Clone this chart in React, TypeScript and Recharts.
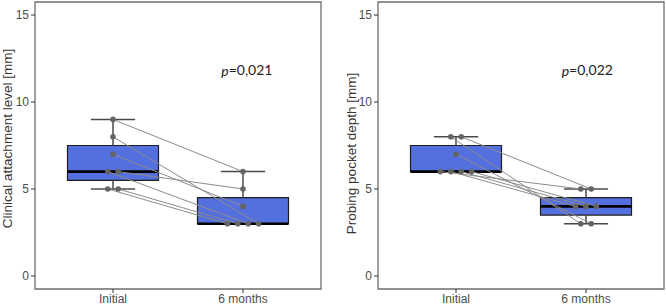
import React from 'react';
import {
  ComposedChart,
  XAxis,
  YAxis,
  Scatter,
  ReferenceArea,
  ReferenceLine,
  ReferenceDot,
} from 'recharts';

const categories = ['Initial', '6 months'];
const yTicks = [0, 5, 10, 15];

// clinical attachment level, one value per patient
const calInitial = [9, 8, 7, 6, 6, 5, 5];
const calSixMonths = [6, 3, 4, 5, 3, 3, 3];
const calJitterInitial = [0, 0, 0, 0.04, -0.04, -0.04, 0.04];
const calJitterSix = [0, 0.12, 0, 0, 0.04, -0.12, -0.04];
// [lower whisker, q1, median, q3, upper whisker]
const calBoxInitial = [5, 5.5, 6, 7.5, 9];
const calBoxSix = [3, 3, 3, 4.5, 6];

// probing pocket depth
const ppdInitial = [8, 8, 7, 6, 6, 6, 6];
const ppdSixMonths = [5, 3, 3, 5, 4, 4, 4];
const ppdJitterInitial = [0.04, -0.04, 0, -0.12, -0.04, 0.04, 0.12];
const ppdJitterSix = [0.04, -0.04, 0.04, -0.04, -0.08, 0, 0.08];
const ppdBoxInitial = [6, 6, 6, 7.5, 8];
const ppdBoxSix = [3, 3.5, 4, 4.5, 5];

const FONT = '"Liberation Sans", Arial, sans-serif';
const BOX_HALF = 0.35;
const CAP_HALF = 0.17;

const Dot = (props: any) => <circle cx={props.cx} cy={props.cy} r={2.8} fill="#646464" />;
const NoDot = () => <g />;

type PanelProps = {
  left: number;
  axisWidth: number;
  marginRight: number;
  yLabel: string;
  labelX: number;
  labelDy: number;
  pValue: string;
  pX: number;
  initial: number[];
  six: number[];
  jitInitial: number[];
  jitSix: number[];
  boxes: number[][];
};

const Panel = (p: PanelProps) => {
  const pairs = p.initial.map((v, i) => [
    { x: 1 + p.jitInitial[i], y: v },
    { x: 2 + p.jitSix[i], y: p.six[i] },
  ]);
  const allPoints = pairs.flat();

  return (
    <div style={{ position: 'absolute', left: p.left, top: 0 }}>
      <ComposedChart
        width={333}
        height={306}
        margin={{ top: 2, right: p.marginRight, bottom: 0, left: 0 }}
      >
        <XAxis
          type="number"
          dataKey="x"
          domain={[0.4, 2.6]}
          ticks={[1, 2]}
          tickFormatter={(v: number) => categories[v - 1]}
          allowDataOverflow
          height={17}
          axisLine={false}
          tickSize={4}
          tickLine={{ stroke: '#333' }}
          tick={{ fontSize: 12, fill: '#4d4d4d', fontFamily: FONT }}
          tickMargin={1}
        />
        <YAxis
          type="number"
          dataKey="y"
          domain={[-0.75, 15.75]}
          ticks={yTicks}
          allowDataOverflow
          width={p.axisWidth}
          axisLine={false}
          tickSize={4}
          tickLine={{ stroke: '#333' }}
          tick={{ fontSize: 12, fill: '#4d4d4d', fontFamily: FONT }}
          tickMargin={2}
          label={({ viewBox }: any) => {
            const cx = viewBox.x + p.labelX;
            const cy = viewBox.y + viewBox.height / 2 + p.labelDy;
            return (
              <text
                x={cx}
                y={cy}
                transform={`rotate(-90 ${cx} ${cy})`}
                textAnchor="middle"
                dominantBaseline="central"
                fontSize={13.5}
                fill="#333"
                fontFamily={FONT}
              >
                {p.yLabel}
              </text>
            );
          }}
        />

        {p.boxes.map((b, i) => {
          const c = i + 1;
          return (
            <React.Fragment key={`box-${i}`}>
              <ReferenceLine segment={[{ x: c, y: b[3] }, { x: c, y: b[4] }]} stroke="#4a4a4a" strokeWidth={1.5} />
              <ReferenceLine segment={[{ x: c, y: b[0] }, { x: c, y: b[1] }]} stroke="#4a4a4a" strokeWidth={1.5} />
              <ReferenceLine segment={[{ x: c - CAP_HALF, y: b[4] }, { x: c + CAP_HALF, y: b[4] }]} stroke="#4a4a4a" strokeWidth={1.5} />
              <ReferenceLine segment={[{ x: c - CAP_HALF, y: b[0] }, { x: c + CAP_HALF, y: b[0] }]} stroke="#4a4a4a" strokeWidth={1.5} />
              <ReferenceArea
                x1={c - BOX_HALF}
                x2={c + BOX_HALF}
                y1={b[1]}
                y2={b[3]}
                fill="#5470de"
                fillOpacity={1}
                stroke="#1e1e1e"
                strokeWidth={1.2}
              />
              <ReferenceLine
                segment={[{ x: c - BOX_HALF, y: b[2] }, { x: c + BOX_HALF, y: b[2] }]}
                stroke="#000"
                strokeWidth={2.6}
              />
            </React.Fragment>
          );
        })}

        {pairs.map((d, i) => (
          <Scatter
            key={`pair-${i}`}
            data={d}
            line={{ stroke: '#8c8c8c', strokeWidth: 1 }}
            shape={NoDot}
            isAnimationActive={false}
          />
        ))}
        <Scatter data={allPoints} shape={Dot} isAnimationActive={false} />

        <ReferenceDot
          x={p.pX}
          y={11.85}
          r={0}
          fill="none"
          stroke="none"
          label={({ viewBox }: any) => (
            <text
              x={viewBox.x}
              y={viewBox.y}
              textAnchor="middle"
              dominantBaseline="central"
              fontSize={14}
              fill="#222"
              fontFamily="Lato, 'Open Sans', sans-serif"
            >
              <tspan fontStyle="italic">p</tspan>
              {p.pValue}
            </text>
          )}
        />

        <ReferenceArea
          x1={0.4}
          x2={2.6}
          y1={-0.75}
          y2={15.75}
          fill="none"
          stroke="#6e6e6e"
          strokeWidth={1.3}
          ifOverflow="visible"
        />
      </ComposedChart>
    </div>
  );
};

export default function App() {
  return (
    <div style={{ position: 'absolute', left: 0, top: 0, width: 666, height: 306, background: '#fff' }}>
      <Panel
        left={0}
        axisWidth={35}
        marginRight={12}
        yLabel="Clinical attachment level [mm]"
        labelX={7.5}
        labelDy={-7}
        pValue="=0,021"
        pX={2.03}
        initial={calInitial}
        six={calSixMonths}
        jitInitial={calJitterInitial}
        jitSix={calJitterSix}
        boxes={[calBoxInitial, calBoxSix]}
      />
      <Panel
        left={333}
        axisWidth={45}
        marginRight={2}
        yLabel="Probing pocket depth [mm]"
        labelX={18}
        labelDy={8}
        pValue="=0,022"
        pX={2.01}
        initial={ppdInitial}
        six={ppdSixMonths}
        jitInitial={ppdJitterInitial}
        jitSix={ppdJitterSix}
        boxes={[ppdBoxInitial, ppdBoxSix]}
      />
    </div>
  );
}
